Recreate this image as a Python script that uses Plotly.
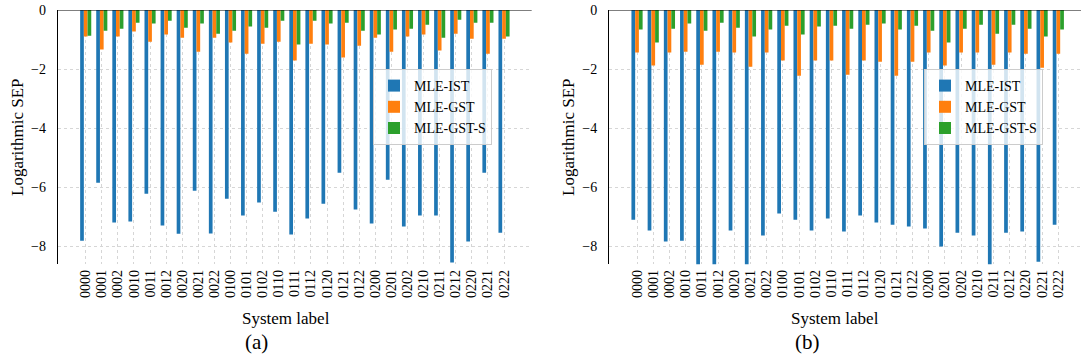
import plotly.graph_objects as go

labels = ["0000", "0001", "0002", "0010", "0011", "0012", "0020", "0021", "0022",
          "0100", "0101", "0102", "0110", "0111", "0112", "0120", "0121", "0122",
          "0200", "0201", "0202", "0210", "0211", "0212", "0220", "0221", "0222"]
series_names = ["MLE-IST", "MLE-GST", "MLE-GST-S"]

# Panel (a)
a_ist = [-7.80, -5.84, -7.19, -7.15, -6.21, -7.29, -7.57, -6.11, -7.56,
         -6.38, -6.95, -6.51, -6.82, -7.59, -7.05, -6.55, -5.50, -6.75,
         -7.22, -5.74, -7.32, -6.95, -6.95, -8.54, -7.83, -5.50, -7.53]
a_gst = [-0.90, -1.34, -0.90, -0.73, -1.07, -0.83, -0.94, -1.41, -0.94,
         -1.10, -1.48, -1.14, -1.07, -1.71, -1.14, -1.17, -1.61, -1.21,
         -0.94, -1.41, -0.90, -0.83, -1.37, -0.80, -0.97, -1.48, -0.97]
a_gsts = [-0.87, -0.70, -0.63, -0.43, -0.46, -0.36, -0.60, -0.46, -0.80,
          -0.70, -0.56, -0.60, -0.36, -1.17, -0.36, -0.46, -0.43, -0.70,
          -0.83, -0.66, -0.63, -0.50, -0.94, -0.33, -0.43, -0.43, -0.90]

# Panel (b)
b_ist = [-7.09, -7.46, -7.83, -7.80, -8.62, -8.62, -7.46, -8.62, -7.63,
         -6.88, -7.09, -7.46, -7.05, -7.49, -6.95, -7.19, -7.26, -7.32,
         -7.39, -8.00, -7.53, -7.63, -8.62, -7.53, -7.49, -8.51, -7.26]
b_gst = [-1.44, -1.88, -1.44, -1.41, -1.85, -1.41, -1.44, -1.92, -1.44,
         -1.71, -2.22, -1.71, -1.71, -2.19, -1.71, -1.75, -2.22, -1.75,
         -1.44, -1.88, -1.44, -1.44, -1.85, -1.44, -1.48, -1.95, -1.48]
b_gsts = [-0.66, -1.10, -0.63, -0.46, -0.70, -0.43, -0.60, -0.90, -0.66,
          -0.53, -0.83, -0.56, -0.53, -0.63, -0.50, -0.46, -0.66, -0.53,
          -0.70, -1.10, -0.63, -0.50, -0.80, -0.50, -0.63, -0.90, -0.66]

yticks = [0, -2, -4, -6, -8]
yticktext = ["0", "\u22122", "\u22124", "\u22126", "\u22128"]

colors = ["#1f77b4", "#ff7f0e", "#2ca02c"]
bar_w = 0.23
offsets = [-1.5 * bar_w, -0.5 * bar_w, 0.5 * bar_w]
FONT = "Liberation Serif, Times New Roman, DejaVu Serif, serif"
W, H = 1081, 362

xpos = list(range(len(labels)))
fig = go.Figure()
for vals, name, col, off in zip([a_ist, a_gst, a_gsts], series_names, colors, offsets):
    fig.add_trace(go.Bar(x=xpos, y=vals, name=name, marker=dict(color=col, line=dict(width=0)),
                         width=bar_w, offset=off, xaxis="x", yaxis="y", legend="legend"))
for vals, name, col, off in zip([b_ist, b_gst, b_gsts], series_names, colors, offsets):
    fig.add_trace(go.Bar(x=xpos, y=vals, name=name, marker=dict(color=col, line=dict(width=0)),
                         width=bar_w, offset=off, xaxis="x2", yaxis="y2", legend="legend2"))

ydom = [1 - 264.3 / H, 1 - 10 / H]
xcommon = dict(tickvals=xpos, ticktext=labels, tickangle=-90, showgrid=True,
               gridcolor="#d6d6d6", griddash="dot", gridwidth=1, zeroline=False,
               showline=False, ticks="", ticklabelstandoff=2, automargin=False,
               tickfont=dict(family=FONT, size=14, color="black"))
ycommon = dict(range=[-8.6, 0], tickvals=yticks, ticktext=yticktext, showgrid=True,
               gridcolor="#d6d6d6", griddash="dot", gridwidth=1, zeroline=False,
               showline=True, linecolor="black", linewidth=1, ticks="", automargin=False,
               ticklabelstandoff=8, tickfont=dict(family=FONT, size=14, color="black"))

legcommon = dict(bgcolor="rgba(255,255,255,0.8)", bordercolor="#cccccc", borderwidth=1,
                 font=dict(family=FONT, size=14, color="black"), xanchor="left", yanchor="top",
                 itemwidth=30, tracegroupgap=0)


def ann(text, x, y, size, angle=0):
    return dict(text=text, x=x / W, y=1 - y / H, xref="paper", yref="paper",
                xanchor="center", yanchor="middle", textangle=angle, showarrow=False,
                font=dict(family=FONT, size=size, color="black"))


fig.update_layout(
    width=W, height=H, margin=dict(l=0, r=0, t=0, b=0, autoexpand=False),
    font=dict(family=FONT, color="black"),
    paper_bgcolor="white", plot_bgcolor="white", barmode="overlay",
    xaxis=dict(domain=[57.7 / W, 531.7 / W], range=[-1.74, 27.72], anchor="y", **xcommon),
    yaxis=dict(domain=ydom, anchor="x", **ycommon),
    xaxis2=dict(domain=[609 / W, 1.0], range=[-1.73, 27.4], anchor="y2", **xcommon),
    yaxis2=dict(domain=ydom, anchor="x2", **ycommon),
    legend=dict(x=373 / W, y=1 - 69 / H, **legcommon),
    legend2=dict(x=924 / W, y=1 - 69 / H, **legcommon),
    shapes=[
        dict(type="line", xref="x domain", yref="y", x0=0, x1=1, y0=0, y1=0,
             line=dict(color="black", width=1)),
        dict(type="line", xref="x2 domain", yref="y2", x0=0, x1=1, y0=0, y1=0,
             line=dict(color="black", width=1)),
    ],
    annotations=[
        ann("Logarithmic SEP", 17, 137, 17, -90),
        ann("Logarithmic SEP", 568, 137, 17, -90),
        ann("System label", 285.5, 318, 17),
        ann("System label", 835, 318, 17),
        ann("(a)", 256, 342, 21),
        ann("(b)", 807, 342, 21),
    ],
)

fig.write_html("out.html")
